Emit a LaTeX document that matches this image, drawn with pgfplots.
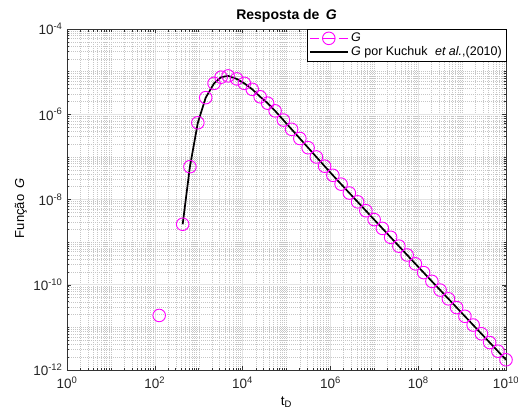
\documentclass[border=0pt]{standalone}
\usepackage{fontspec}
\setmainfont{Liberation Sans}
\usepackage{pgfplots}
\pgfplotsset{compat=1.18}
\definecolor{mag}{RGB}{255,0,255}

\begin{document}
\begin{tikzpicture}
% minor ticks: 2..9 in every decade plus the odd decades
\def\mxt{1e1,1e3,1e5,1e7,1e9}
\foreach \k in {0,...,9}{\foreach \m in {2,...,9}{\xdef\mxt{\mxt,\m e\k}}}
\def\myt{1e-11,1e-9,1e-7,1e-5}
\foreach \k in {-12,...,-5}{\foreach \m in {2,...,9}{\xdef\myt{\myt,\m e\k}}}

\begin{axis}[
  at={(0,0)}, anchor=south west,
  scale only axis, width=439pt, height=341pt,
  xmode=log, ymode=log, log basis x=10, log basis y=10,
  xmin=1, xmax=1e10, ymin=1e-12, ymax=1e-4,
  xtick={1,1e2,1e4,1e6,1e8,1e10},
  ytick={1e-12,1e-10,1e-8,1e-6,1e-4},
  minor xtick/.expand once=\mxt,
  minor ytick/.expand once=\myt,
  xticklabel={\pgfmathtruncatemacro\e{round(\tick)}10\textsuperscript{\e}},
  yticklabel={\pgfmathtruncatemacro\e{round(\tick)}10\textsuperscript{\e}},
  tick label style={font=\fontsize{13.5}{15}\selectfont, text=black!85},
  xticklabel style={yshift=-3pt},
  yticklabel style={xshift=-1pt},
  tick align=inside,
  major tick length=4.5pt, minor tick length=2.5pt,
  tick style={black!80, line width=0.5pt},
  axis line style={black!80, line width=0.6pt},
  grid=both,
  major grid style={gray!22, line width=0.6pt},
  minor grid style={gray!45, line width=0.4pt, dash pattern=on 0.5pt off 1.5pt},
  clip=false,
  unbounded coords=jump,
  title={\textbf{Resposta de\hspace{0.45em}\textit{G}}},
  title style={font=\fontsize{14}{16}\selectfont, at={(axis description cs:0.5,1)}, anchor=south, yshift=-2.5pt},
  xlabel={t\textsubscript{D}},
  xlabel style={font=\fontsize{13.5}{15}\selectfont, at={(axis description cs:0.5,0)}, anchor=north, yshift=-23pt},
  ylabel={Função\hspace{0.45em}\textit{G}},
  ylabel style={font=\fontsize{13}{15}\selectfont, at={(axis description cs:-0.105,0.474)}, anchor=center},
  legend style={at={(1,1)}, anchor=north east, draw=black,
    fill=white, font=\fontsize{12.5}{14}\selectfont, inner sep=1.5pt, row sep=-1.5pt,
    nodes={inner sep=2.5pt}},
  legend cell align=left,
  legend image code/.code={\draw[mark repeat=2,mark phase=2,#1] plot coordinates {(0pt,0pt)(19pt,0pt)(38pt,0pt)};},
]
\addplot[mag, line width=0.7pt, dash pattern=on 9pt off 4pt on 12pt off 4pt on 9pt off 4pt,
  mark=o, mark size=6.3pt, mark options={solid, line width=0.9pt}] coordinates {
  (125.9,1.905e-11) (300,nan)
  (431.5,2.63e-9) (631,5.89e-8) (955,6.31e-7) (1445,2.455e-6) (2239,5.31e-6)
  (3236,7.41e-6) (4677,7.94e-6) (7328,6.76e-6) (10965,5.31e-6) (16596,3.846e-6)
  (25119,2.570e-6) (37154,1.820e-6) (54954,1.202e-6) (84723,7.31e-7)
  (1.306e5,4.436e-7) (2.014e5,2.698e-7) (3.105e5,1.641e-7) (4.786e5,9.954e-8)
  (7.379e5,6.053e-8) (1.138e6,3.698e-8) (1.754e6,2.291e-8) (2.704e6,1.419e-8)
  (4.169e6,8.81e-9) (6.427e6,5.458e-9) (9.908e6,3.381e-9) (1.528e7,2.099e-9)
  (2.355e7,1.300e-9) (3.631e7,8.054e-10) (5.598e7,4.989e-10) (8.630e7,3.097e-10)
  (1.330e8,1.928e-10) (2.051e8,1.202e-10) (3.162e8,7.499e-11) (4.875e8,4.677e-11)
  (7.516e8,2.917e-11) (1.159e9,1.820e-11) (1.786e9,1.135e-11) (2.754e9,7.079e-12)
  (4.246e9,4.416e-12) (6.546e9,2.761e-12) (1e10,1.738e-12)
};
\addlegendentry{\textit{G}}
\addplot[black, line width=1.7pt, mark=none] coordinates {
  (431.5,2.63e-9) (631,5.89e-8) (955,6.31e-7) (1445,2.455e-6) (2239,5.31e-6)
  (3236,7.41e-6) (4677,7.94e-6) (7328,6.76e-6) (10965,5.31e-6) (16596,3.846e-6)
  (25119,2.570e-6) (37154,1.820e-6) (54954,1.202e-6) (84723,7.31e-7)
  (1.306e5,4.436e-7) (2.014e5,2.698e-7) (3.105e5,1.641e-7) (4.786e5,9.954e-8)
  (7.379e5,6.053e-8) (1.138e6,3.698e-8) (1.754e6,2.291e-8) (2.704e6,1.419e-8)
  (4.169e6,8.81e-9) (6.427e6,5.458e-9) (9.908e6,3.381e-9) (1.528e7,2.099e-9)
  (2.355e7,1.300e-9) (3.631e7,8.054e-10) (5.598e7,4.989e-10) (8.630e7,3.097e-10)
  (1.330e8,1.928e-10) (2.051e8,1.202e-10) (3.162e8,7.499e-11) (4.875e8,4.677e-11)
  (7.516e8,2.917e-11) (1.159e9,1.820e-11) (1.786e9,1.135e-11) (2.754e9,7.079e-12)
  (4.246e9,4.416e-12) (6.546e9,2.761e-12) (1e10,1.738e-12)
};
\addlegendentry{\textit{G} por Kuchuk\hspace{0.6em}\textit{et al.},(2010)}
\end{axis}
\pgfresetboundingbox
\useasboundingbox (-67pt,-47pt) rectangle (451pt,370pt);
\end{tikzpicture}
\end{document}
